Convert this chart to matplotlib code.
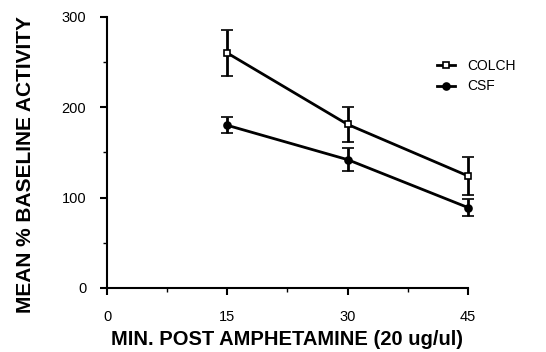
import numpy as np
import matplotlib.pyplot as plt

plt.rcParams['font.family'] = ['Liberation Sans', 'DejaVu Sans']

minutes = [15, 30, 45]
colch = [260, 181, 124]
colch_err = [25, 19, 21]
csf = [180, 142, 89]
csf_err = [9, 13, 9]

fig = plt.figure(figsize=(5.46, 3.52), dpi=100)
ax = fig.add_axes([0.196, 0.182, 0.661, 0.770])

for vals, errs, mfc, mk, lab in [(colch, colch_err, "white", "s", "COLCH"),
                                 (csf, csf_err, "black", "o", "CSF")]:
    eb = ax.errorbar(minutes, vals, yerr=errs, color="black", lw=2, marker=mk,
                     ms=5, mfc=mfc, mec="black", mew=1.2, capsize=4, capthick=2,
                     elinewidth=2, label=lab)
    for art in [eb.lines[0]] + list(eb.lines[1]) + list(eb.lines[2]):
        art.set_clip_on(False)

ax.set_xlim(0, 45)
ax.set_ylim(0, 300)
ax.set_xticks([0, 15, 30, 45])
ax.set_xticks([7.5, 22.5, 37.5], minor=True)
ax.set_yticks([0, 100, 200, 300])
ax.set_yticks([50, 150, 250], minor=True)
ax.spines["top"].set_visible(False)
ax.spines["right"].set_visible(False)
ax.spines["left"].set_linewidth(1.5)
ax.spines["bottom"].set_linewidth(1.5)
ax.tick_params(which="major", direction="out", length=5, width=1.5, labelsize=10.5)
ax.tick_params(which="minor", direction="out", length=3, width=1)
ax.tick_params(axis="x", pad=11)
ax.tick_params(axis="y", pad=10)

ax.set_xlabel("MIN. POST AMPHETAMINE (20 ug/ul)", fontsize=14.5, fontweight="bold", labelpad=4)
ax.set_ylabel("MEAN % BASELINE ACTIVITY", fontsize=15, fontweight="bold")
ax.yaxis.set_label_coords(-0.2, 0.455)

handles, labels = ax.get_legend_handles_labels()
handles = [h[0] for h in handles]
ax.legend(handles, labels, loc="upper left", bbox_to_anchor=(0.88, 0.89),
          frameon=False, fontsize=10, handlelength=1.3, handletextpad=0.9,
          labelspacing=0.45)

fig.savefig("out.png", dpi=100)
